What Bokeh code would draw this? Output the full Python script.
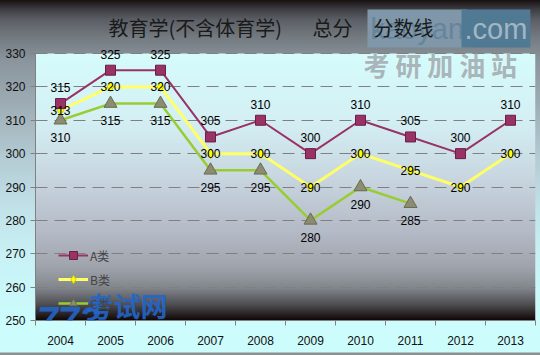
import numpy as np
from bokeh.plotting import figure
from bokeh.models import (ColumnDataSource, LabelSet, Legend, LegendItem, Label,
                          Range1d, FixedTicker)
from bokeh.core.properties import value
from bokeh.embed import file_html
from bokeh.resources import INLINE

# ---------------- data ----------------
years = ["2004", "2005", "2006", "2007", "2008", "2009", "2010", "2011", "2012", "2013"]
a_values = [315, 325, 325, 305, 310, 300, 310, 305, 300, 310]
b_values = [313, 320, 320, 300, 300, 290, 300, 295, 290, 300]
c_years = ["2004", "2005", "2006", "2007", "2008", "2009", "2010", "2011"]
c_values = [310, 315, 315, 295, 295, 280, 290, 285]
y_ticks = [250, 260, 270, 280, 290, 300, 310, 320, 330]
series_names = ["A类", "B类", "C类"]
title_parts = ["教育学(不含体育学)", "总分", "分数线"]

pos = {yr: i for i, yr in enumerate(years)}


def src(yrs, vals):
    return ColumnDataSource(dict(x=[pos[y] for y in yrs], y=vals, label=[str(v) for v in vals]))


src_a = src(years, a_values)
src_b = src(years, b_values)
src_c = src(c_years, c_values)

# ---------------- figure ----------------
# frame spans from canvas top (title band lives inside it); the value axis is bounded to 250-330
plot_px = 267          # pixel height of the 250..330 span
top_px = 53            # title band height
y_lo, y_hi = y_ticks[0], y_ticks[-1]
y_end = y_hi + top_px * (y_hi - y_lo) / plot_px

p = figure(width=540, height=355, output_backend="svg", toolbar_location=None,
           x_range=Range1d(-0.5, len(years) - 0.5), y_range=Range1d(y_lo, y_end),
           min_border_left=35, min_border_right=5, min_border_top=0, min_border_bottom=35,
           border_fill_alpha=0, background_fill_alpha=0, outline_line_color=None)

p.styles = {"background": "linear-gradient(to bottom, #181010 0px, #3c3c42 9px, #5c6066 20px, "
                          "#767e84 40px, #8a949c 60px, #a0b0b8 110px, #b4ccd4 160px, "
                          "#c2e2ea 210px, #c8f2f6 260px, #ccfcfc 320px, #ccfcfc 352px, "
                          "#8a9090 353px, #8a9090 355px)"}

# plot-area gradient (styling only)
stops_t = [0.0, 0.25, 0.47, 0.67, 0.80, 0.88, 0.94, 1.0]
stops_c = np.array([(214, 252, 252), (212, 240, 244), (200, 214, 224), (180, 186, 198),
                    (160, 164, 172), (130, 134, 140), (80, 80, 84), (16, 8, 8)], float)
t = np.linspace(1, 0, plot_px)  # row 0 = bottom
rgb = np.stack([np.interp(t, stops_t, stops_c[:, k]) for k in range(3)], axis=1).astype(np.uint32)
col = (255 << 24) | (rgb[:, 2] << 16) | (rgb[:, 1] << 8) | rgb[:, 0]
img = np.repeat(col[:, None], 2, axis=1).astype(np.uint32)
p.image_rgba(image=[img], x=-0.5, y=y_lo, dw=len(years), dh=y_hi - y_lo, level="image")

# axes
axis_color = "#808080"
p.xaxis.ticker = FixedTicker(ticks=list(range(len(years))),
                             minor_ticks=[i - 0.5 for i in range(len(years) + 1)])
p.xaxis.major_label_overrides = {i: y for i, y in enumerate(years)}
p.xaxis.major_tick_out = 0
p.xaxis.major_tick_in = 0
p.xaxis.minor_tick_out = 5
p.xaxis.minor_tick_in = 0
p.xaxis.minor_tick_line_color = axis_color
p.xaxis.axis_line_color = axis_color
p.xaxis.major_label_standoff = 10

p.yaxis.ticker = FixedTicker(ticks=y_ticks)
p.yaxis.bounds = (y_lo, y_hi)
p.yaxis.major_tick_out = 5
p.yaxis.major_tick_in = 0
p.yaxis.minor_tick_line_color = None
p.yaxis.major_tick_line_color = axis_color
p.yaxis.axis_line_color = axis_color
p.yaxis.major_label_standoff = 5

for ax in (p.xaxis, p.yaxis):
    ax.major_label_text_font = "Liberation Sans"
    ax.major_label_text_font_size = "12px"
    ax.major_label_text_color = "#111111"

p.xgrid.grid_line_color = None
p.ygrid.grid_line_color = "#808080"
p.ygrid.grid_line_dash = "12 7"
p.ygrid.grid_line_width = 1

# frame offsets: left=35, bottom=320 (canvas px)
FL, FB = 35, 320


def add_label(text, X, Y, font, size, color, align="left", baseline="middle", style="normal",
              alpha=1.0, **kw):
    p.add_layout(Label(x=X - FL, y=FB - Y, x_units="screen", y_units="screen", text=text,
                       text_font=font, text_font_size=size, text_color=color, text_align=align,
                       text_baseline=baseline, text_font_style=style, text_alpha=alpha, **kw))


# watermark box behind the title (decoration)
add_label("kaoyan", 367, 28, "Liberation Sans", "29px", "#66849c",
          background_fill_color="#7f97a8", background_fill_alpha=1.0, padding=3)
add_label(".com", 461, 28, "Liberation Sans", "29px", "#a3b6c2",
          background_fill_color="#507a94", background_fill_alpha=1.0, padding=3)

# title
add_label(title_parts[0], 108, 27, "Noto Sans CJK SC", "20px", "#1a1a1a")
add_label(title_parts[1], 312, 27, "Noto Sans CJK SC", "20px", "#1a1a1a")
add_label(title_parts[2], 373, 27, "Noto Sans CJK SC", "20px", "#1a1a1a")

add_label("考 研 加 油 站", 363, 64, "Noto Sans CJK SC", "26px", "#a4acb0", style="bold", alpha=0.9)

# series
lc = p.line("x", "y", source=src_c, line_color="#99CC33", line_width=2.5)
sc = p.scatter("x", "y", source=src_c, marker="triangle", size=13,
               fill_color="#8C8C70", line_color="#6a6a50")
lb = p.line("x", "y", source=src_b, line_color="#FFFF66", line_width=3)
sb = p.scatter("x", "y", source=src_b, marker="diamond", size=10,
               fill_color="#FFFF00", line_color="#d0d000")
la = p.line("x", "y", source=src_a, line_color="#993366", line_width=2)
sa = p.scatter("x", "y", source=src_a, marker="square", size=10,
               fill_color="#993366", line_color="#6a1f46")

lab_font = value("Liberation Sans")
for s, off in ((src_a, 16), (src_b, 0), (src_c, -17)):
    p.add_layout(LabelSet(x="x", y="y", text="label", source=s, y_offset=off,
                          text_align="center", text_baseline="middle",
                          text_font=lab_font, text_font_size="12px", text_color="#000000"))

legend = Legend(items=[LegendItem(label=series_names[0], renderers=[la, sa]),
                       LegendItem(label=series_names[1], renderers=[lb, sb]),
                       LegendItem(label=series_names[2], renderers=[lc, sc])],
                location=(23, 7), orientation="vertical", padding=0, margin=0, spacing=4,
                glyph_width=30, glyph_height=20, label_height=20, label_standoff=2,
                background_fill_alpha=0, border_line_color=None,
                label_text_font="Noto Sans CJK SC", label_text_font_size="12px")
p.add_layout(legend)

# bottom-left watermark (decoration; clipped at the frame)
add_label("3773", 15, 320, "Liberation Sans", "38px", "#2266cc", baseline="alphabetic",
          style="bold italic", alpha=0.9)
add_label("考试网", 86, 305, "Noto Sans CJK SC", "27px", "#2266cc", style="bold", alpha=0.9)

open("out.html", "w").write(file_html(p, INLINE))
